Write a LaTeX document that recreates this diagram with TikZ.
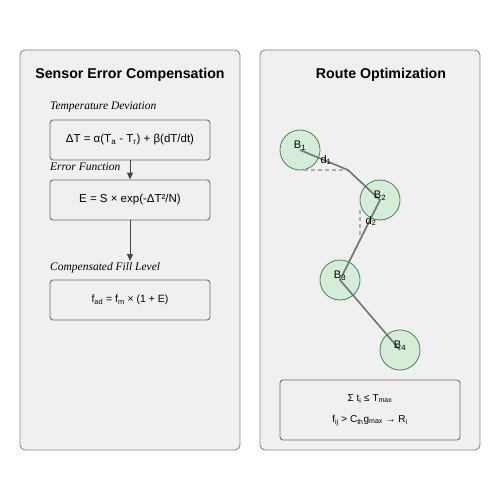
\documentclass[tikz,border=0pt]{standalone}
\usepackage{fontspec}
\setmainfont{Liberation Serif}
\setsansfont{Liberation Sans}
\usetikzlibrary{positioning,arrows.meta}

\definecolor{panelfill}{HTML}{F0F0F0}
\definecolor{paneldraw}{HTML}{888888}
\definecolor{boxdraw}{HTML}{707070}
\definecolor{binfill}{HTML}{D5EDD8}
\definecolor{bindraw}{HTML}{4A7F55}
\definecolor{routeline}{HTML}{6E737A}

\tikzset{
	panel/.style={draw=paneldraw, fill=panelfill, line width=0.9pt, rounded corners=5pt, minimum width=220pt, minimum height=400pt},
	paneltitle/.style={font=\sffamily\bfseries\fontsize{14.2}{17}\selectfont},
	formula/.style={draw=boxdraw, fill=panelfill, line width=0.9pt, rounded corners=3pt, minimum width=160pt, minimum height=40pt, font=\sffamily\fontsize{11.5}{14}\selectfont},
	caption/.style={font=\itshape\fontsize{11.5}{14}\selectfont, inner sep=0pt},
	flow/.style={draw=black!72, line width=1pt, -{Triangle[length=7pt, width=6pt]}},
	bin/.style={circle, draw=bindraw, fill=binfill, line width=0.8pt, minimum size=40pt, inner sep=0pt},
	binlabel/.style={font=\sffamily\fontsize{11}{13}\selectfont, inner sep=0pt},
	route/.style={draw=routeline, line width=1.6pt},
	guide/.style={draw=black!32, line width=1.1pt, dash pattern=on 4pt off 3pt}
}

\begin{document}
\begin{tikzpicture}[x=1pt, y=-1pt]
	\useasboundingbox (0,0) rectangle (500,500);

	% sensor side
	\node [panel] (sensor) at (130,250) {};
	\node [paneltitle] (sensortitle) at (130,75) {Sensor Error Compensation};
	\node [formula] (dev) at (130,140) {ΔT = α(T\textsubscript{a} - T\textsubscript{r}) + β(dT/dt)};
	\node [formula] (err) at (130,200) {E = S × exp(-ΔT²/N)};
	\node [formula, font=\sffamily\fontsize{10.5}{13}\selectfont] (fill) at (130,300) {f\textsubscript{ad} = f\textsubscript{m} × (1 + E)};
	\node [caption, anchor=base west] (devcap) at (50,110) {Temperature Deviation};
	\node [caption, anchor=base west] (errcap) at (50,170) {Error Function};
	\node [caption, anchor=base west] (fillcap) at (50,270) {Compensated Fill Level};
	\coordinate (errend) at (130,261);
	\draw [flow] (dev.south) -- (err.north);
	\draw [flow] (err.south) -- (errend);

	% route side
	\node [panel] (route) at (370,250) {};
	\node [paneltitle] (routetitle) at (381,75) {Route Optimization};
	\node [bin] (b1) at (300,150) {};
	\node [bin] (b2) at (380,200) {};
	\node [bin] (b3) at (340,280) {};
	\node [bin] (b4) at (400,350) {};
	\coordinate (bend) at (348,170);
	\coordinate (g1) at (304,170);
	\coordinate (g2) at (360,210);
	\coordinate (g3) at (360,236);
	\draw [guide] (g1) -- (bend);
	\draw [guide] (g2) -- (g3);
	\draw [route] (b1.center) -- (bend) -- (b2.center) -- (b3.center) -- (b4.center);
	\node [binlabel] (l1) at (300,146) {B\textsubscript{1}};
	\node [binlabel] (l2) at (380,196) {B\textsubscript{2}};
	\node [binlabel] (l3) at (340,276) {B\textsubscript{3}};
	\node [binlabel] (l4) at (400,346) {B\textsubscript{4}};
	\node [binlabel] (d1) at (326,160) {d\textsubscript{1}};
	\node [binlabel] (d2) at (371,221) {d\textsubscript{2}};
	\node [formula, minimum width=180pt, minimum height=60pt, align=center, font=\sffamily\fontsize{10}{21}\selectfont] (rule) at (370,410)
		{Σ t\textsubscript{i} ≤ T\textsubscript{max}\\f\textsubscript{ij} > C\textsubscript{th}g\textsubscript{max} → R\textsubscript{i}};
\end{tikzpicture}
\end{document}
